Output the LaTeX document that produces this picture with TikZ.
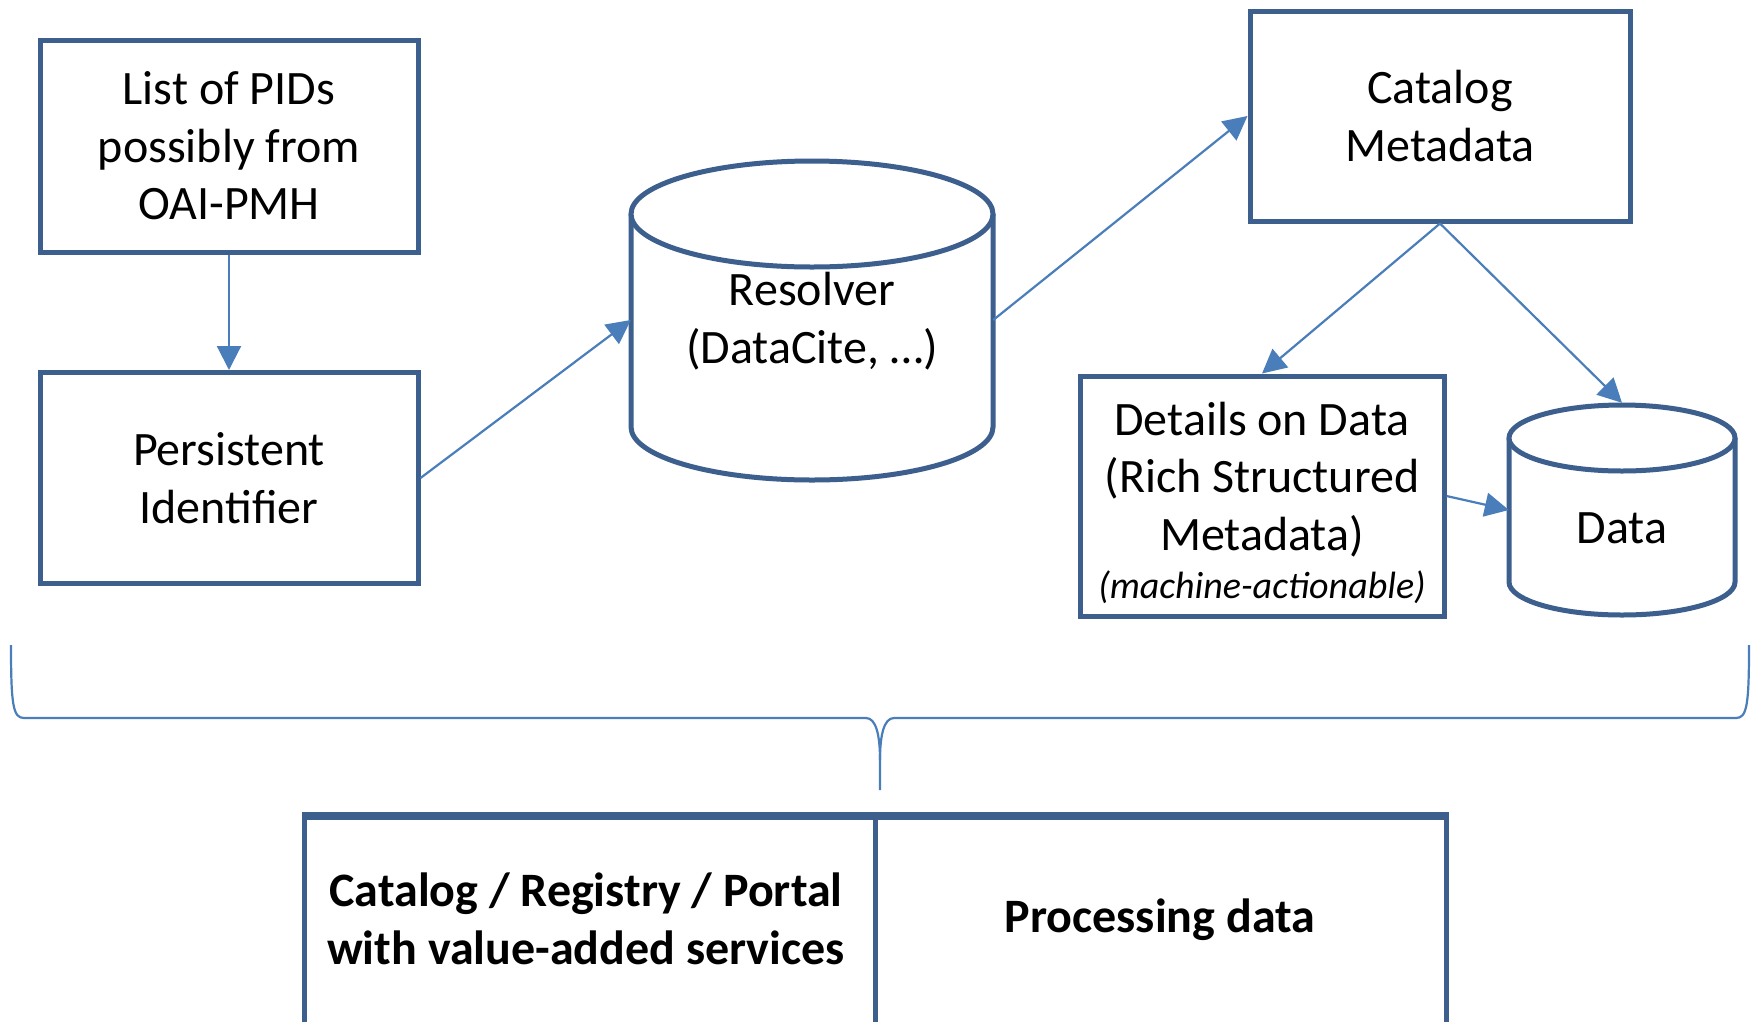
\documentclass[tikz,border=0pt]{standalone}
\usepackage{fontspec}
\setmainfont{Carlito}
\usetikzlibrary{arrows.meta}
\definecolor{boxline}{HTML}{3C5F8E}
\definecolor{arrowc}{HTML}{4A7EBB}
\begin{document}
\begin{tikzpicture}[x=1pt,y=-1pt,
  txt/.style={font=\fontsize{48}{57.5}\selectfont, align=center},
  pbox/.style={draw=boxline, line width=5pt, fill=white, inner sep=0pt, txt},
  conn/.style={draw=arrowc, line width=2.2pt, -{Triangle[length=24pt,width=24pt]}},
  cyl/.style={draw=boxline, line width=5pt, fill=white},
  bracec/.style={draw=arrowc, line width=2.2pt}
]
\clip (0,0) rectangle (1758,1021);
\fill[white] (0,0) rectangle (1758,1021);

% boxes
\node[pbox, minimum width=378pt, minimum height=212pt] (b1) at (229,146) {List of PIDs\\possibly from\\OAI-PMH};
\node[pbox, minimum width=378pt, minimum height=211pt] (b2) at (229,478) {Persistent\\Identifier};
\node[pbox, minimum width=380pt, minimum height=210pt] (cat) at (1440,116) {Catalog\\Metadata};
\node[pbox, minimum width=364pt, minimum height=240pt, text depth=0pt] (det) at (1262,496) {\raisebox{0pt}{}};
\node[txt] (detT) at (1262,503) {Details on Data\\(Rich Structured\\Metadata)\\[-9pt]{\fontsize{38}{48}\selectfont\itshape (machine-actionable)}};

% resolver cylinder
\path[cyl] (631,214) -- (631,427) arc[start angle=180, end angle=360, x radius=181, y radius=-53] -- (993,214);
\draw[cyl] (812,214) ellipse[x radius=181, y radius=53];
\node[inner sep=0pt, minimum width=362pt, minimum height=320pt] (res) at (812,320) {};
\node[txt] (resT) at (812,321) {Resolver\\(DataCite, …)};

% data cylinder
\path[cyl] (1509,438) -- (1509,582) arc[start angle=180, end angle=360, x radius=113, y radius=-33] -- (1735,438);
\draw[cyl] (1622,438) ellipse[x radius=113, y radius=33];
\node[inner sep=0pt, minimum width=226pt, minimum height=214pt] (data) at (1622,510) {};
\node[txt] (dataT) at (1622,528) {Data};

% connectors
\draw[conn] (b1.south) -- (b2.north);
\draw[conn] (b2.east) -- (res.west);
\draw[conn] (res.east) -- (cat.west);
\draw[conn] (cat.south) -- (det.north);
\draw[conn] (cat.south) -- (data.north);
\draw[conn] (det.east) -- (data.west);

% brace
\coordinate (brL) at (11,645);
\coordinate (brR) at (1749,645);
\coordinate (brTip) at (880,790);
\draw[bracec] (brL) .. controls (11,705) and (13,718) .. (24,718) -- (866,718)
  .. controls (876,718) and (880,735) .. (880,760) -- (brTip);
\draw[bracec] (brR) .. controls (1749,705) and (1747,718) .. (1736,718) -- (894,718)
  .. controls (884,718) and (880,735) .. (880,760);

% bottom boxes
\node[draw=boxline, line width=5pt, inner sep=0pt, minimum width=571pt, minimum height=300pt, anchor=north west] (portal) at (302,815) {};
\node[draw=boxline, line width=5pt, inner sep=0pt, minimum width=571pt, minimum height=300pt, anchor=north west] (proc) at (873,815) {};
\draw[boxline, line width=7pt] (portal.north west) -- (proc.north east);
\node[txt, font=\fontsize{48}{57.5}\selectfont\bfseries] (portalT) at (586,919) {Catalog / Registry / Portal\\with value-added services};
\node[txt, font=\fontsize{48}{57.5}\selectfont\bfseries] (procT) at (1160,920) {Processing data};
\end{tikzpicture}
\end{document}
